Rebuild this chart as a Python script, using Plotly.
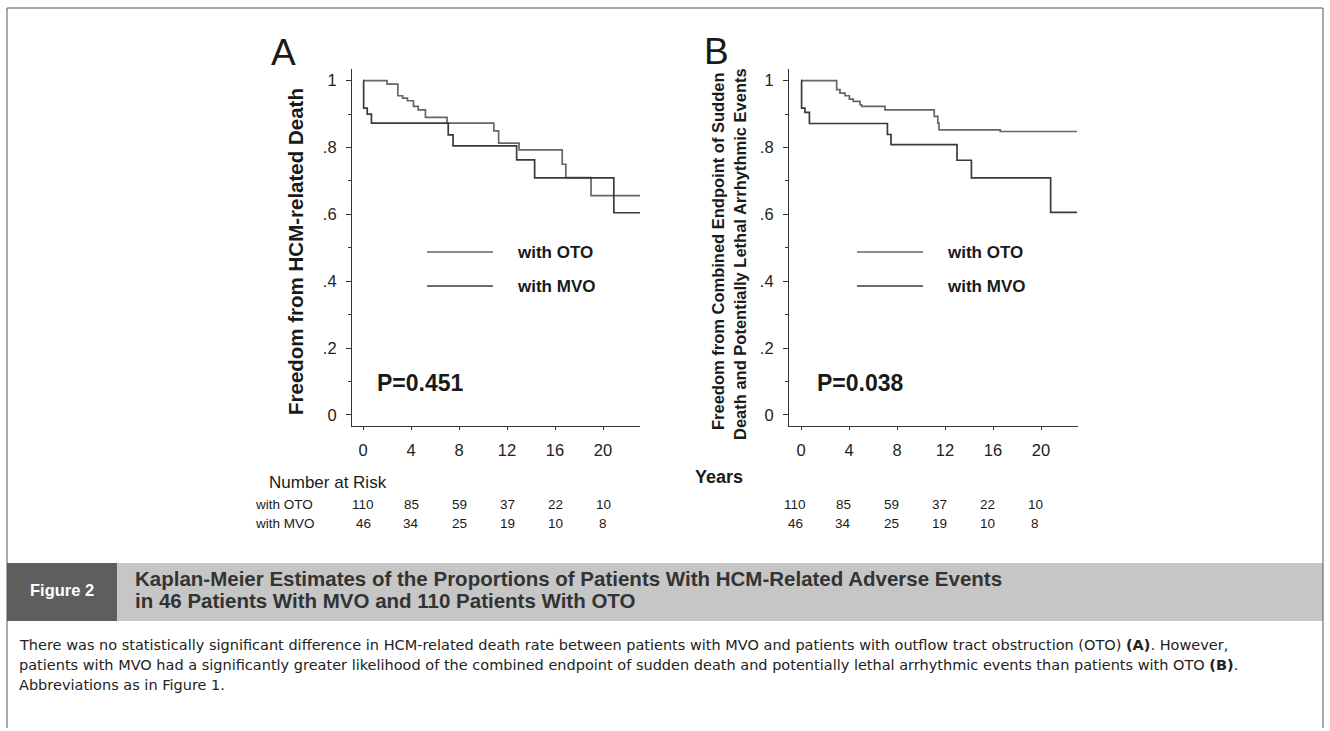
import plotly.graph_objects as go

W, H = 1330, 731


def px(x):
    return x / W


def py(y):
    return 1 - y / H


# ---------------- data ----------------
years_ticks = [0, 4, 8, 12, 16, 20]
y_tickvals = [0, 0.2, 0.4, 0.6, 0.8, 1.0]
y_ticktext = ["0", ".2", ".4", ".6", ".8", "1"]
y_minor = [0.1, 0.3, 0.5, 0.7, 0.9]

# Panel A: HCM-related death
a_oto_t = [0, 2.0, 2.9, 3.3, 3.7, 4.2, 4.6, 5.2, 7.0, 10.9, 11.3, 13.0, 16.6, 16.9, 19.0, 23.1]
a_oto_s = [1.0, 0.99, 0.955, 0.948, 0.94, 0.923, 0.913, 0.89, 0.873, 0.85, 0.813, 0.793, 0.75, 0.71, 0.656, 0.656]
a_mvo_t = [0, 0.05, 0.35, 0.7, 7.1, 7.5, 12.8, 14.3, 20.9, 23.1]
a_mvo_s = [1.0, 0.918, 0.9, 0.873, 0.838, 0.805, 0.763, 0.709, 0.605, 0.605]

# Panel B: sudden death + potentially lethal arrhythmic events
b_oto_t = [0, 2.97, 3.25, 3.67, 4.03, 4.36, 4.92, 5.06, 7.0, 11.1, 11.4, 11.5, 16.6, 23.0]
b_oto_s = [1.0, 0.973, 0.963, 0.955, 0.945, 0.938, 0.928, 0.923, 0.913, 0.893, 0.873, 0.853, 0.848, 0.848]
b_mvo_t = [0, 0.05, 0.33, 0.7, 7.2, 7.5, 13.0, 14.2, 20.8, 23.0]
b_mvo_s = [1.0, 0.918, 0.905, 0.872, 0.839, 0.809, 0.762, 0.709, 0.606, 0.606]

risk_oto = [110, 85, 59, 37, 22, 10]
risk_mvo = [46, 34, 25, 19, 10, 8]

p_values = ["P=0.451", "P=0.038"]
series_names = ["with OTO", "with MVO"]

# ---------------- style ----------------
FONT = "Liberation Sans, Arial, Helvetica, sans-serif"
CAPFONT = "DejaVu Sans, Liberation Sans, sans-serif"
C_OTO = "#666666"
C_MVO = "#3a3a3a"
AX = "#333333"
TXT = "#1a1a1a"

fig = go.Figure()

panels = [
    ("x", "y", a_oto_t, a_oto_s, a_mvo_t, a_mvo_s),
    ("x2", "y2", b_oto_t, b_oto_s, b_mvo_t, b_mvo_s),
]
for xa, ya, ot, os_, mt, ms in panels:
    fig.add_trace(go.Scatter(x=ot, y=os_, mode="lines", name="with OTO",
                             line=dict(shape="hv", color=C_OTO, width=1.7),
                             xaxis=xa, yaxis=ya, showlegend=False, hoverinfo="skip"))
    fig.add_trace(go.Scatter(x=mt, y=ms, mode="lines", name="with MVO",
                             line=dict(shape="hv", color=C_MVO, width=1.7),
                             xaxis=xa, yaxis=ya, showlegend=False, hoverinfo="skip"))

ydom = [py(426), py(69)]


def xaxis_cfg(dom, rng, anchor):
    return dict(domain=dom, range=rng, anchor=anchor, showline=True, linecolor=AX, linewidth=1.2,
                ticks="outside", tickvals=years_ticks, ticklen=3, tickcolor=AX, tickwidth=1,
                tickfont=dict(family=FONT, size=16.5, color="#222"), ticklabelstandoff=6,
                showgrid=False, zeroline=False, fixedrange=True)


def yaxis_cfg(anchor):
    return dict(domain=ydom, range=[-0.033, 1.035], anchor=anchor, showline=True, linecolor=AX,
                linewidth=1.2, ticks="outside", tickvals=y_tickvals, ticktext=y_ticktext,
                ticklen=5, tickcolor=AX, tickwidth=1,
                minor=dict(tickvals=y_minor, ticklen=3, ticks="outside", tickcolor=AX),
                tickfont=dict(family=FONT, size=16.5, color="#222"), ticklabelstandoff=6,
                showgrid=False, zeroline=False, fixedrange=True)


fig.update_layout(
    xaxis=xaxis_cfg([px(352), px(640)], [-0.92, 23.08], "y"),
    yaxis=yaxis_cfg("x"),
    xaxis2=xaxis_cfg([px(789), px(1078)], [-1.0, 23.08], "y2"),
    yaxis2=yaxis_cfg("x2"),
)

shapes = []
ann = []


def text(x, y, s, size, bold=False, color=TXT, xanchor="center", angle=0, family=FONT, xref="paper", xshift=0):
    ann.append(dict(x=x if xref != "paper" else px(x), y=py(y), xref=xref, yref="paper",
                    text=f"<b>{s}</b>" if bold else s, showarrow=False,
                    font=dict(family=family, size=size, color=color),
                    xanchor=xanchor, yanchor="middle", textangle=angle, xshift=xshift))


# frame
shapes.append(dict(type="line", xref="paper", yref="paper", x0=px(7), x1=px(1323), y0=py(8), y1=py(8),
                   line=dict(color="#555", width=1)))
shapes.append(dict(type="line", xref="paper", yref="paper", x0=px(7), x1=px(7), y0=py(8), y1=py(728),
                   line=dict(color="#555", width=1)))
shapes.append(dict(type="line", xref="paper", yref="paper", x0=px(1323), x1=px(1323), y0=py(8), y1=py(728),
                   line=dict(color="#555", width=1)))

# panel letters
text(283, 53, "A", 37)
text(716, 52, "B", 37)

# y-axis titles
text(295, 252, "Freedom from HCM-related Death", 20.5, bold=True, angle=-90)
text(718, 252, "Freedom from Combined Endpoint of Sudden", 16.5, bold=True, angle=-90)
text(740, 254, "Death and Potentially Lethal Arrhythmic Events", 16.5, bold=True, angle=-90)

# P values
text(420, 383, p_values[0], 23, bold=True)
text(860, 383, p_values[1], 23, bold=True)

# in-plot legends
for (lx0, lx1, tx) in [(427, 493, 515), (857, 923, 945)]:
    for name, yy, col in [(series_names[0], 252, C_OTO), (series_names[1], 286, C_MVO)]:
        shapes.append(dict(type="line", xref="paper", yref="paper", x0=px(lx0), x1=px(lx1),
                           y0=py(yy), y1=py(yy), line=dict(color=col, width=1.6)))
        text(tx, yy, name, 17, bold=True, xanchor="left")

# number at risk
text(267, 482, "Number at Risk", 17, xanchor="left")
text(693, 477, "Years", 18, bold=True, xanchor="left")
text(253, 504, series_names[0], 13.5, xanchor="left")
text(253, 523, series_names[1], 13.5, xanchor="left")
for xr, sh in [("x", 0), ("x2", -6)]:
    for yr, n1, n2 in zip(years_ticks, risk_oto, risk_mvo):
        text(yr, 504, str(n1), 13.5, xref=xr, xshift=sh)
        text(yr, 523, str(n2), 13.5, xref=xr, xshift=sh)

# caption bar
shapes.append(dict(type="rect", xref="paper", yref="paper", x0=px(7), x1=px(1323), y0=py(621), y1=py(563),
                   fillcolor="#c6c6c6", line=dict(width=0), layer="below"))
shapes.append(dict(type="rect", xref="paper", yref="paper", x0=px(7), x1=px(117), y0=py(621), y1=py(563),
                   fillcolor="#5e5e5e", line=dict(width=0), layer="below"))
text(62, 590, "Figure 2", 16.5, bold=True, color="#ffffff")
text(133, 578, "Kaplan-Meier Estimates of the Proportions of Patients With HCM-Related Adverse Events",
     20.5, bold=True, color="#333333", xanchor="left")
text(133, 600, "in 46 Patients With MVO and 110 Patients With OTO", 20.5, bold=True, color="#333333",
     xanchor="left")

# caption text
cap = [
    "There was no statistically significant difference in HCM-related death rate between patients with MVO and "
    "patients with outflow tract obstruction (OTO) <b>(A)</b>. However,",
    "patients with MVO had a significantly greater likelihood of the combined endpoint of sudden death and "
    "potentially lethal arrhythmic events than patients with OTO <b>(B)</b>.",
    "Abbreviations as in Figure 1.",
]
for i, line in enumerate(cap):
    text(17, 645 + 20 * i, line, 14.5, color="#222", xanchor="left", family=CAPFONT)

fig.update_layout(
    width=W, height=H, margin=dict(l=0, r=0, t=0, b=0),
    paper_bgcolor="white", plot_bgcolor="white",
    shapes=shapes, annotations=ann, showlegend=False,
    font=dict(family=FONT, color=TXT),
)

fig.write_html("out.html", config={"displayModeBar": False},
               post_script="document.body.style.margin='0';document.body.style.overflow='hidden';")
